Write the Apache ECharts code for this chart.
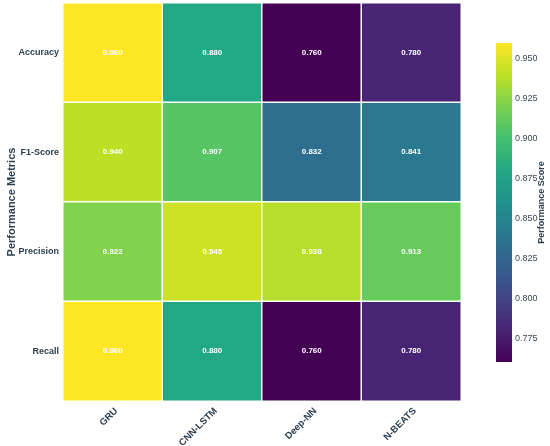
<!DOCTYPE html>
<html lang="en">
  <head>
    <meta charset="UTF-8" />
    <title>Performance Metrics Heatmap</title>
    <script src="https://cdn.jsdelivr.net/npm/echarts@6/dist/echarts.min.js"></script>
    <style>
      html, body { margin: 0; padding: 0; background: #fff; }
      #chart { width: 550px; height: 446px; }
    </style>
  </head>
  <body>
    <div id="chart"></div>
    <script>
      /* ---------- data ---------- */
      const models = ["GRU", "CNN-LSTM", "Deep-NN", "N-BEATS"];
      const metrics = ["Accuracy", "F1-Score", "Precision", "Recall"];
      const accuracy = [0.96, 0.88, 0.76, 0.78];
      const f1Score = [0.94, 0.907, 0.832, 0.841];
      const precision = [0.922, 0.945, 0.938, 0.913];
      const recall = [0.96, 0.88, 0.76, 0.78];
      const colorbarTicks = [0.775, 0.8, 0.825, 0.85, 0.875, 0.9, 0.925, 0.95];
      const scoreMin = 0.76;
      const scoreMax = 0.96;

      const viridis = [
        "#440154", "#482475", "#414487", "#355f8d", "#2a788e", "#21918c",
        "#22a884", "#44bf70", "#7ad151", "#bddf26", "#fde725",
      ];

      /* ---------- build heatmap cells ---------- */
      const rows = [accuracy, f1Score, precision, recall];
      const cells = [];
      rows.forEach((row, y) => row.forEach((v, x) => cells.push([x, y, v])));

      const textColor = "#2c3e50";
      const font = "Liberation Sans, Arial, sans-serif";

      const chart = echarts.init(document.getElementById("chart"), null, { renderer: "canvas" });

      const option = {
        backgroundColor: "#fff",
        animation: false,
        textStyle: { fontFamily: font },
        grid: [
          { left: 63, top: 3, width: 398, height: 398, containLabel: false, outerBoundsMode: "none" },
          { left: 496, top: 43, width: 16, height: 319, containLabel: false, outerBoundsMode: "none" },
        ],
        xAxis: [
          {
            type: "category",
            gridIndex: 0,
            data: models,
            axisLine: { show: false },
            axisTick: { show: false },
            axisLabel: {
              rotate: 45,
              margin: 5,
              verticalAlign: "top",
              color: textColor,
              fontWeight: "bold",
              fontSize: 9.5,
              fontFamily: font,
            },
          },
          { type: "value", gridIndex: 1, min: 0, max: 1, show: false },
        ],
        yAxis: [
          {
            type: "category",
            gridIndex: 0,
            data: metrics,
            inverse: true,
            axisLine: { show: false },
            axisTick: { show: false },
            axisLabel: {
              margin: 4,
              color: textColor,
              fontWeight: "bold",
              fontSize: 9,
              fontFamily: font,
            },
            name: "Performance Metrics",
            nameLocation: "middle",
            nameRotate: 90,
            nameGap: 46,
            nameMoveOverlap: false,
            nameTextStyle: { color: textColor, fontWeight: "bold", fontSize: 11, fontFamily: font },
          },
          {
            type: "value",
            gridIndex: 1,
            position: "right",
            min: scoreMin,
            max: scoreMax,
            axisLine: { show: false },
            axisTick: { show: false },
            splitLine: { show: false },
            axisLabel: {
              customValues: colorbarTicks,
              formatter: (v) => v.toFixed(3),
              margin: 3,
              color: "#3a4656",
              fontSize: 9,
              fontFamily: font,
            },
            name: "Performance Score",
            nameLocation: "middle",
            nameRotate: 90,
            nameGap: 25,
            nameMoveOverlap: false,
            nameTextStyle: { color: textColor, fontWeight: "bold", fontSize: 9, fontFamily: font },
          },
        ],
        visualMap: {
          show: false,
          type: "continuous",
          min: scoreMin,
          max: scoreMax,
          seriesIndex: 0,
          dimension: 2,
          inRange: { color: viridis },
        },
        series: [
          {
            type: "heatmap",
            xAxisIndex: 0,
            yAxisIndex: 0,
            data: cells,
            itemStyle: { borderColor: "#fff", borderWidth: 1.5 },
            label: {
              show: true,
              formatter: (p) => p.value[2].toFixed(3),
              color: "#fff",
              fontWeight: "bold",
              fontSize: 8,
              fontFamily: font,
            },
            emphasis: { disabled: true },
          },
          {
            // colorbar gradient strip
            type: "custom",
            xAxisIndex: 1,
            yAxisIndex: 1,
            silent: true,
            data: [[scoreMin, scoreMax]],
            renderItem: (params, api) => {
              const top = api.coord([0, api.value(1)]);
              const bot = api.coord([0, api.value(0)]);
              const stops = viridis
                .slice()
                .reverse()
                .map((c, i) => ({ offset: i / (viridis.length - 1), color: c }));
              return {
                type: "rect",
                shape: {
                  x: params.coordSys.x,
                  y: top[1],
                  width: params.coordSys.width,
                  height: bot[1] - top[1],
                },
                style: { fill: new echarts.graphic.LinearGradient(0, 0, 0, 1, stops) },
              };
            },
          },
        ],
      };

      chart.setOption(option);
    </script>
  </body>
</html>
